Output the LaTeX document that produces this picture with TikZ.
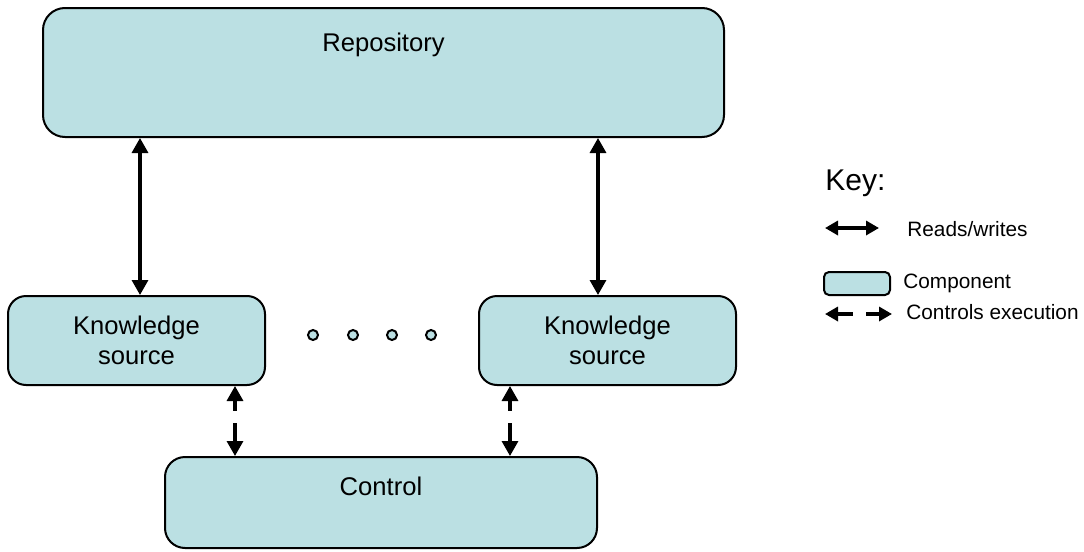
\documentclass[tikz,border=0pt]{standalone}
\usepackage{fontspec}
\setmainfont{Liberation Sans}
\usetikzlibrary{arrows.meta, positioning}

\begin{document}
\begin{tikzpicture}[x=0.5pt, y=-0.5pt,
    every node/.style={font=\fontsize{12.8}{15}\selectfont, inner sep=0pt},
    component/.style={draw=black, line width=1pt, fill=compcolor, rounded corners=#1},
    component/.default=10pt,
    boxtext/.style={align=center},
    keytext/.style={font=\fontsize{10.4}{12}\selectfont, anchor=west},
    rw/.style={line width=1.6pt, {Triangle[length=7.5pt, width=8pt]}-{Triangle[length=7.5pt, width=8pt]}},
    ctl/.style={rw, dash pattern=on 5.5pt off 6pt on 20pt},
    keyarrow/.style={line width=1.8pt, {Triangle[length=6.5pt, width=7pt]}-{Triangle[length=6.5pt, width=7pt]}},
    dot/.style={circle, draw=black, line width=1pt, fill=compcolor, minimum size=5pt}]
    % Define consistent colors
    \definecolor{compcolor}{RGB}{187,224,227}

    % Frame of the picture
    \useasboundingbox (0,0) rectangle (1084,552);

    % Components
    \node[component=11pt, minimum width=340.5pt, minimum height=64.5pt] (repo) at (383.5,72.5) {};
    \node[boxtext] (repotext) at ([yshift=-19pt]repo.north) {Repository};
    \node[component=9pt, minimum width=128.5pt, minimum height=44.5pt, boxtext] (ksl) at (136.5,340.5) {Knowledge\\source};
    \node[component=9pt, minimum width=128.5pt, minimum height=44.5pt, boxtext] (ksr) at (607.5,340.5) {Knowledge\\source};
    \node[component=10pt, minimum width=216pt, minimum height=45.5pt] (ctrl) at (381,502.5) {};
    \node[boxtext] (ctrltext) at ([yshift=-15pt]ctrl.north) {Control};

    % Dots between the sources
    \foreach \x [count=\i] in {313,353,392,431}
        \node[dot] (dot\i) at (\x,335) {};

    % Reads/writes
    \draw[rw] ([xshift=1.75pt]ksl.north) -- ([xshift=1.75pt]ksl.north |- repo.south);
    \draw[rw] ([xshift=-4.75pt]ksr.north) -- ([xshift=-4.75pt]ksr.north |- repo.south);

    % Controls execution
    \draw[ctl] ([xshift=-15.5pt]ksl.south east) -- ([xshift=-15.5pt]ksl.south east |- ctrl.north);
    \draw[ctl] ([xshift=16pt]ksr.south west) -- ([xshift=16pt]ksr.south west |- ctrl.north);

    % Key
    \node[anchor=west, font=\fontsize{15}{18}\selectfont] (keytitle) at (825,183) {Key:};
    \coordinate (rwa) at (825,228);
    \coordinate (rwb) at (879,228);
    \draw[keyarrow] (rwa) -- (rwb);
    \node[keytext] (rwtext) at (907,229) {Reads/writes};
    \node[component=2.5pt, minimum width=33pt, minimum height=11.5pt] (compkey) at (857,283.5) {};
    \node[keytext] (comptext) at (903,283) {Component};
    \coordinate (cea) at (825,314);
    \coordinate (ceb) at (892,314);
    \draw[keyarrow, dash pattern=on 8pt off 6.5pt on 10pt] (cea) -- (ceb);
    \node[keytext] (cetext) at (906,312) {Controls execution};
\end{tikzpicture}
\end{document}
